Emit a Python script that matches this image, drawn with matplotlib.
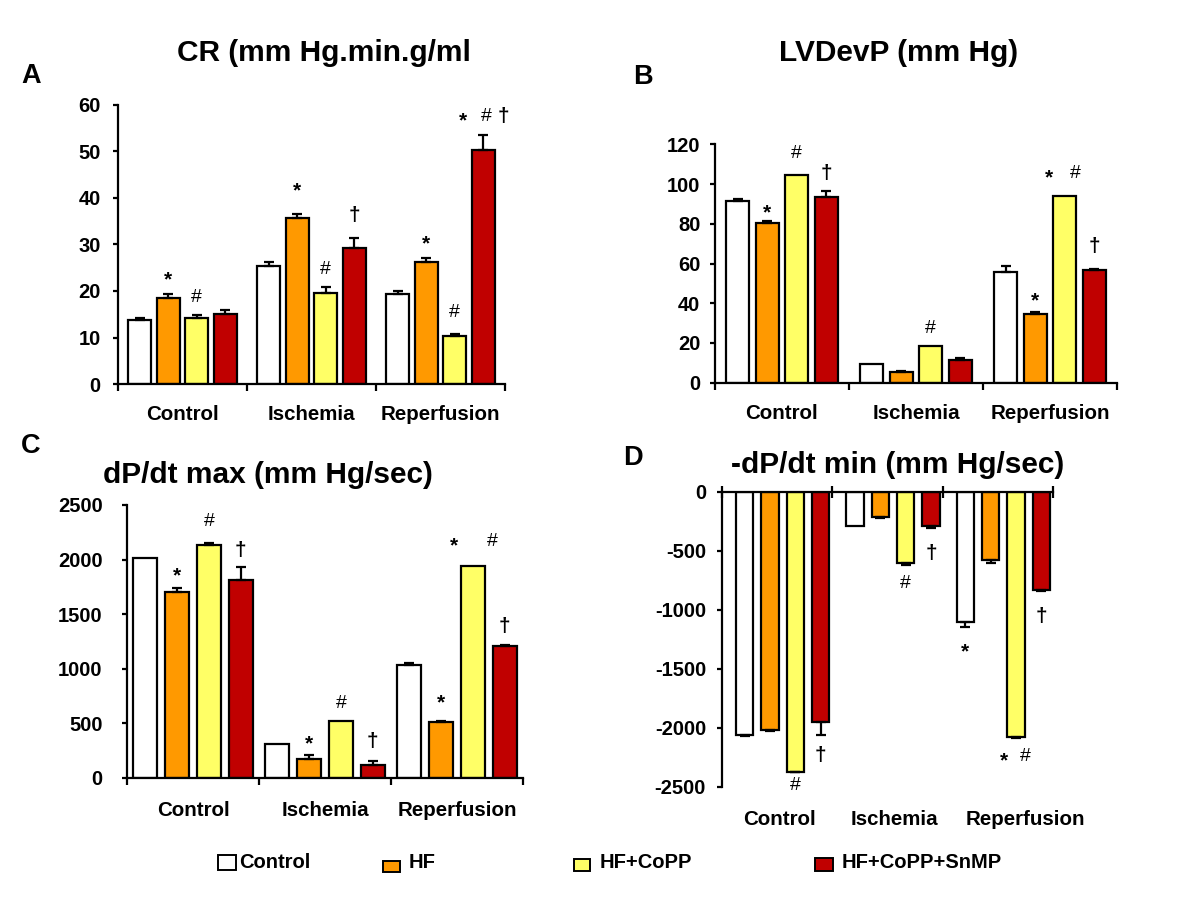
import matplotlib
matplotlib.use('Agg')
import matplotlib.pyplot as plt
from matplotlib.patches import Rectangle
import numpy as np

plt.rcParams['font.family'] = ['Liberation Sans', 'DejaVu Sans']

W, H = 1200, 899

categories = ['Control', 'Ischemia', 'Reperfusion']
series_names = ['Control', 'HF', 'HF+CoPP', 'HF+CoPP+SnMP']
colors = ['#FFFFFF', '#FF9900', '#FFFF66', '#C00000']

# Panel A: CR (mm Hg.min.g/ml)
cr_control = [13.8, 25.4, 19.4]
cr_hf = [18.4, 35.7, 26.3]
cr_copp = [14.2, 19.6, 10.3]
cr_snmp = [15.1, 29.2, 50.3]
cr_err_control = [0.3, 0.9, 0.5]
cr_err_hf = [0.9, 0.9, 0.9]
cr_err_copp = [0.7, 1.3, 0.45]
cr_err_snmp = [0.9, 2.3, 3.2]
cr_marks = [(0, 1, '*', 23.2), (0, 2, '#', 18.5), (1, 1, '*', 42.5), (1, 2, '#', 24.7),
            (1, 3, '†', 36.2), (2, 1, '*', 31.0), (2, 2, '#', 15.4),
            (2, 2.3, '*', 57.5), (2, 3.1, '#', 57.5), (2, 3.7, '†', 57.5)]

# Panel B: LVDevP (mm Hg)
lv_control = [91.6, 9.2, 55.7]
lv_hf = [80.2, 5.4, 34.4]
lv_copp = [104.4, 18.5, 93.8]
lv_snmp = [93.3, 11.6, 56.7]
lv_err_control = [1.0, 0, 3.2]
lv_err_hf = [1.2, 0.6, 1.2]
lv_err_copp = [0, 0, 0]
lv_err_snmp = [3.0, 0.6, 0.5]
lv_marks = [(0, 1, '*', 87.8), (0, 2, '#', 115.4), (0, 3, '†', 105.4), (1, 2, '#', 27.3),
            (2, 1, '*', 43.3), (2, 1.45, '*', 105.4), (2, 2.35, '#', 105.4), (2, 3, '†', 68.5)]

# Panel C: dP/dt max (mm Hg/sec)
dmax_control = [2014, 306, 1036]
dmax_hf = [1699, 174, 507]
dmax_copp = [2133, 516, 1941]
dmax_snmp = [1812, 113, 1210]
dmax_err_control = [0, 0, 15]
dmax_err_hf = [43, 31, 13]
dmax_err_copp = [22, 0, 0]
dmax_err_snmp = [120, 43, 5]
dmax_marks = [(0, 1, '*', 1889), (0, 2, '#', 2347), (0, 3, '†', 2087), (1, 1, '*', 345),
              (1, 2, '#', 682), (1, 3, '†', 330), (2, 1, '*', 727),
              (2, 1.4, '*', 2164), (2, 2.6, '#', 2164), (2, 3, '†', 1384)]

# Panel D: -dP/dt min (mm Hg/sec)
dmin_control = [-2062, -291, -1104]
dmin_hf = [-2020, -212, -579]
dmin_copp = [-2373, -607, -2076]
dmin_snmp = [-1949, -291, -833]
dmin_err_control = [8, 0, 46]
dmin_err_hf = [6, 11, 28]
dmin_err_copp = [6, 14, 10]
dmin_err_snmp = [113, 14, 12]
dmin_marks = [(0, 2, '#', -2486), (0, 3, '†', -2232), (1, 2, '#', -777), (1, 3, '†', -523),
              (2, 0, '*', -1319), (2, 1.52, '*', -2246), (2, 2.35, '#', -2246), (2, 3, '†', -1059)]

fig = plt.figure(figsize=(12, 8.99), dpi=100)


def rect(x0, x1, ytop, ybot):
    return [x0 / W, (H - ybot) / H, (x1 - x0) / W, (ybot - ytop) / H]


def fx(x):
    return x / W


def fy(y):
    return (H - y) / H


panels = [
    dict(rect=rect(118, 505, 105, 384), ylim=(0, 60), yticks=np.arange(0, 61, 10),
         vals=[cr_control, cr_hf, cr_copp, cr_snmp],
         errs=[cr_err_control, cr_err_hf, cr_err_copp, cr_err_snmp], marks=cr_marks,
         title='CR (mm Hg.min.g/ml', tpos=(324, 53), letter='A', lpos=(31, 76),
         width=0.178, spacing=0.222, shift=0.0, ypad=9, xpad=15, neg=False,
         label_shift=[0, 0, 0]),
    dict(rect=rect(715, 1117, 144.3, 382.7), ylim=(0, 120), yticks=np.arange(0, 121, 20),
         vals=[lv_control, lv_hf, lv_copp, lv_snmp],
         errs=[lv_err_control, lv_err_hf, lv_err_copp, lv_err_snmp], marks=lv_marks,
         title='LVDevP (mm Hg)', tpos=(899, 53), letter='B', lpos=(643, 77),
         width=0.172, spacing=0.22, shift=0.0, ypad=7, xpad=15, neg=False,
         label_shift=[0, 0, 0]),
    dict(rect=rect(127, 523, 505, 777.7), ylim=(0, 2500), yticks=np.arange(0, 2501, 500),
         vals=[dmax_control, dmax_hf, dmax_copp, dmax_snmp],
         errs=[dmax_err_control, dmax_err_hf, dmax_err_copp, dmax_err_snmp], marks=dmax_marks,
         title='dP/dt max (mm Hg/sec)', tpos=(268, 475), letter='C', lpos=(31, 446),
         width=0.182, spacing=0.242, shift=0.0, ypad=14, xpad=17, neg=False,
         label_shift=[0, 0, 0]),
    dict(rect=rect(722, 1053, 491.7, 786.7), ylim=(-2500, 0), yticks=np.arange(-2500, 1, 500),
         vals=[dmin_control, dmin_hf, dmin_copp, dmin_snmp],
         errs=[dmin_err_control, dmin_err_hf, dmin_err_copp, dmin_err_snmp], marks=dmin_marks,
         title='-dP/dt min (mm Hg/sec)', tpos=(898, 465), letter='D', lpos=(633, 458),
         width=0.157, spacing=0.23, shift=0.05, ypad=8, xpad=17, neg=True,
         label_shift=[0.02, 0.06, 0.25]),
]

sym_style = {
    '*': dict(fontsize=15, fontweight='bold'),
    '#': dict(fontsize=14, fontweight='normal'),
    '†': dict(fontsize=15, fontweight='bold'),
}
sym_offset = {'*': -3, '#': 0, '†': 0}

for p in panels:
    ax = fig.add_axes(p['rect'])
    ax.set_xlim(0, 3)
    ax.set_ylim(*p['ylim'])
    ax.spines['right'].set_visible(False)
    if p['neg']:
        ax.spines['bottom'].set_visible(False)
        ax.spines['top'].set_linewidth(1.6)
    else:
        ax.spines['top'].set_visible(False)
        ax.spines['bottom'].set_linewidth(1.6)
    ax.spines['left'].set_linewidth(1.6)

    x_centers = np.arange(len(categories)) + 0.5 + p['shift']
    for j in range(4):
        xs = x_centers + (j - 1.5) * p['spacing']
        vals = np.array(p['vals'][j], dtype=float)
        ax.bar(xs, vals, width=p['width'], color=colors[j], edgecolor='black',
               linewidth=1.6, zorder=2)
        errs = np.array(p['errs'][j], dtype=float)
        mask = errs > 0
        if mask.any():
            if p['neg']:
                yerr = [errs[mask], np.zeros(mask.sum())]
            else:
                yerr = [np.zeros(mask.sum()), errs[mask]]
            ax.errorbar(xs[mask], vals[mask], yerr=yerr, fmt='none', ecolor='black',
                        elinewidth=1.6, capsize=3.5, capthick=1.6, zorder=3)

    for (g, j, sym, y) in p['marks']:
        x = g + 0.5 + p['shift'] + (j - 1.5) * p['spacing']
        ax.annotate(sym, (x, y), xytext=(0, sym_offset[sym]), textcoords='offset points',
                    ha='center', va='center', color='black', zorder=4, **sym_style[sym])

    ax.set_yticks(p['yticks'])
    ax.set_yticklabels([str(int(v)) for v in p['yticks']], fontsize=14.5, fontweight='bold')
    ax.tick_params(axis='y', direction='out', length=3.5, width=1.6, pad=p['ypad'])

    ax.set_xticks(np.arange(len(categories)) + 0.5 + np.array(p['label_shift']))
    ax.set_xticklabels(categories, fontsize=14.8, fontweight='bold')
    ax.set_xticks(np.arange(0, 4), minor=True)
    if p['neg']:
        ax.tick_params(axis='x', which='major', length=0, bottom=True, top=False,
                       labelbottom=True, pad=p['xpad'])
        ax.tick_params(axis='x', which='minor', top=True, bottom=False, direction='inout',
                       length=8, width=1.6)
    else:
        ax.tick_params(axis='x', which='major', length=0, pad=p['xpad'])
        ax.tick_params(axis='x', which='minor', direction='out', length=5, width=1.6)

    fig.text(fx(p['tpos'][0]), fy(p['tpos'][1]), p['title'], ha='center', va='center',
             fontsize=21.5, fontweight='bold')
    fig.text(fx(p['lpos'][0]), fy(p['lpos'][1]), p['letter'], ha='center', va='center',
             fontsize=19.5, fontweight='bold')

# Legend (manual, figure coordinates)
legend_boxes = [(218, 855, 18, 15), (383, 861, 17, 11), (574, 859, 16, 12), (815, 858, 18, 13)]
legend_text_x = [239, 409, 600, 842]
for (bx, by, bw, bh), tx, c, name in zip(legend_boxes, legend_text_x, colors, series_names):
    fig.patches.append(Rectangle((fx(bx), fy(by + bh)), bw / W, bh / H, transform=fig.transFigure,
                                 facecolor=c, edgecolor='black', linewidth=1.4))
    fig.text(fx(tx), fy(863), name, ha='left', va='center', fontsize=14.5, fontweight='bold')

fig.savefig('out.png', dpi=100)
